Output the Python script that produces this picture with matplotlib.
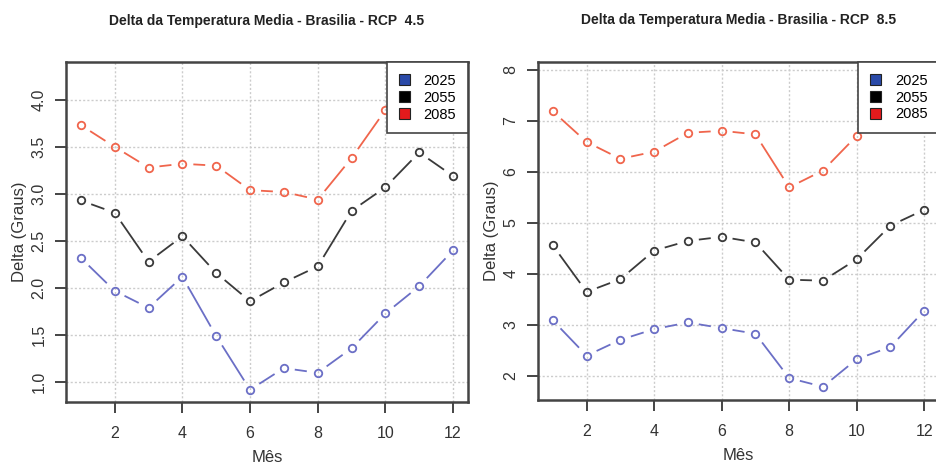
import numpy as np
import matplotlib
matplotlib.use("Agg")
import matplotlib.pyplot as plt
from matplotlib.patches import Patch

plt.rcParams['font.family'] = ['Liberation Sans', 'DejaVu Sans']

meses = list(range(1, 13))
anos = ["2025", "2055", "2085"]

# RCP 4.5
rcp45_2025 = [2.32, 1.97, 1.79, 2.12, 1.49, 0.92, 1.15, 1.10, 1.36, 1.73, 2.02, 2.40]
rcp45_2055 = [2.93, 2.80, 2.28, 2.55, 2.16, 1.86, 2.06, 2.23, 2.82, 3.07, 3.44, 3.19]
rcp45_2085 = [3.73, 3.50, 3.28, 3.32, 3.30, 3.04, 3.02, 2.94, 3.38, 3.89, 4.20, 4.05]

# RCP 8.5
rcp85_2025 = [3.08, 2.39, 2.70, 2.91, 3.04, 2.93, 2.82, 1.95, 1.78, 2.32, 2.56, 3.27]
rcp85_2055 = [4.55, 3.64, 3.89, 4.45, 4.64, 4.72, 4.61, 3.88, 3.86, 4.28, 4.94, 5.25]
rcp85_2085 = [7.18, 6.58, 6.25, 6.39, 6.76, 6.80, 6.73, 5.69, 6.02, 6.70, 7.40, 7.60]

cores_linha = ["#6b6fc6", "#3a3a3a", "#f0654c"]
cores_legenda = ["#2a4aa8", "#000000", "#e41a1c"]
cor_eixo = "#444444"


def linha_tipo_b(ax, x, y, cor, gap=11):
    # imita o type="b" do R: pontos abertos e linhas com espaco em volta
    ax.plot(x, y, linestyle="none", marker="o", markersize=5.4,
            markerfacecolor="none", markeredgecolor=cor, markeredgewidth=1.3, zorder=3)
    pts = ax.transData.transform(np.column_stack([x, y]))
    inv = ax.transData.inverted()
    for i in range(len(pts) - 1):
        p0, p1 = pts[i], pts[i + 1]
        d = p1 - p0
        dist = np.hypot(d[0], d[1])
        if dist <= 2 * gap:
            continue
        u = d / dist
        a = inv.transform(p0 + u * gap)
        b = inv.transform(p1 - u * gap)
        ax.plot([a[0], b[0]], [a[1], b[1]], color=cor, lw=1.3,
                solid_capstyle="butt", zorder=3)


def painel(ax, series, titulo, ylim, yticks):
    ax.set_xlim(0.56, 12.44)
    ax.set_ylim(*ylim)
    ax.set_xticks([2, 4, 6, 8, 10, 12])
    ax.set_yticks(yticks)
    ax.grid(True, color="#cccccc", linestyle=(0, (1.5, 1.5)), lw=1.0)
    ax.set_axisbelow(True)
    for s in ax.spines.values():
        s.set_color(cor_eixo)
        s.set_linewidth(1.8)
    ax.tick_params(axis="x", direction="out", length=8, width=1.4, color=cor_eixo,
                   labelsize=11.5, labelcolor="#333333", pad=9)
    ax.tick_params(axis="y", direction="out", length=8, width=1.4, color=cor_eixo,
                   labelsize=11.5, labelcolor="#333333", pad=6)
    for lab in ax.get_yticklabels():
        lab.set_rotation(90)
        lab.set_va("center")
    fig.canvas.draw()
    for serie, cor in zip(series, cores_linha):
        linha_tipo_b(ax, meses, serie, cor)
    ax.set_xlabel("Mês", fontsize=12, color="#333333", labelpad=7)
    ax.set_ylabel("Delta (Graus)", fontsize=12, color="#333333", labelpad=3)
    ax.set_title(titulo, fontsize=10, fontweight="bold", color="#222222", pad=27)
    handles = [Patch(facecolor=c, edgecolor="#222222", lw=0.8) for c in cores_legenda]
    leg = ax.legend(handles, anos, loc="upper right", fontsize=10.5, frameon=True,
                    fancybox=False, framealpha=1, edgecolor=cor_eixo,
                    handlelength=0.75, handleheight=0.75, handletextpad=0.95,
                    borderpad=0.8, labelspacing=0.2, borderaxespad=0)
    leg.get_frame().set_linewidth(1.2)
    leg.set_zorder(5)


fig = plt.figure(figsize=(9.37, 4.65), dpi=100)
ax1 = fig.add_axes([0.0704, 0.1355, 0.429, 0.731])
ax2 = fig.add_axes([0.5742, 0.1398, 0.428, 0.727])

painel(ax1, [rcp45_2025, rcp45_2055, rcp45_2085],
       "Delta da Temperatura Media - Brasilia - RCP  4.5",
       (0.79, 4.40), [1.0, 1.5, 2.0, 2.5, 3.0, 3.5, 4.0])
painel(ax2, [rcp85_2025, rcp85_2055, rcp85_2085],
       "Delta da Temperatura Media - Brasilia - RCP  8.5",
       (1.52, 8.15), [2, 3, 4, 5, 6, 7, 8])

fig.savefig("out.png", dpi=100)
